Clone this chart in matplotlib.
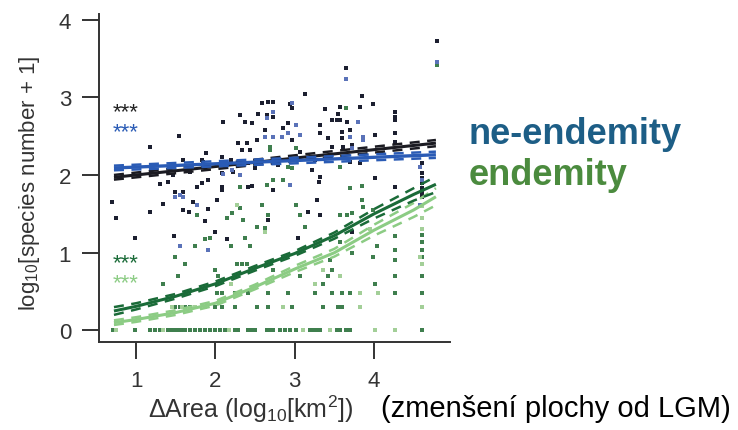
import matplotlib
matplotlib.use("Agg")
import matplotlib.pyplot as plt

plt.rcParams['font.family'] = ['Liberation Sans', 'DejaVu Sans']
plt.rcParams['mathtext.fontset'] = 'custom'
plt.rcParams['mathtext.rm'] = 'Liberation Sans'
plt.rcParams['mathtext.it'] = 'Liberation Sans:italic'

# all species (black points)
all_x = [1.54, 1.18, 1.59, 1.88, 1.83, 1.84, 1.68, 1.47, 1.30, 1.40, 1.90, 1.83, 1.77, 1.49, 1.59,
         3.13, 2.66, 2.73, 2.59, 2.94, 2.97, 3.38, 2.31, 2.54, 2.65, 2.10, 2.37, 2.46, 2.73, 2.92,
         3.32, 2.63, 2.85, 3.32, 3.42, 2.97, 2.53, 2.40, 2.29, 2.34, 2.44, 3.07, 3.47, 2.08, 2.19,
         2.41, 2.54, 2.72, 2.79, 3.26, 2.50, 3.22, 2.08, 2.22, 3.32, 2.08, 2.41, 2.46, 2.73, 3.30, 2.08,
         4.80, 3.64, 3.85, 3.99, 3.82, 3.57, 3.55, 3.53, 3.47, 3.57, 3.66, 4.27, 4.27, 4.27, 4.27, 4.27,
         3.70, 3.60, 3.60, 3.61, 3.72, 4.01, 3.47, 3.82, 3.70, 4.01, 4.27, 4.61, 4.61, 4.61, 4.61, 4.61,
         4.61, 4.61,
         0.70, 0.74, 1.18, 0.99, 1.34, 1.59, 1.67, 1.72, 1.91, 1.48, 1.87, 2.02,
         3.28, 3.32, 3.17, 2.15, 3.04, 2.66, 2.00, 3.72]
all_y = [2.50, 2.36, 2.19, 2.28, 2.19, 2.17, 2.04, 2.00, 1.88, 1.91, 1.94, 1.90, 1.85, 1.78, 1.78,
         3.04, 2.94, 2.94, 2.92, 2.91, 2.86, 2.85, 2.77, 2.79, 2.77, 2.68, 2.68, 2.67, 2.74, 2.67,
         2.64, 2.58, 2.60, 2.54, 2.47, 2.45, 2.45, 2.41, 2.41, 2.32, 2.32, 2.29, 2.36, 2.23, 2.19,
         2.15, 2.15, 2.15, 2.13, 2.19, 2.09, 2.06, 2.03, 2.04, 1.97, 1.85, 1.85, 1.86, 1.81, 1.91, 1.81,
         3.72, 3.37, 3.01, 2.91, 2.88, 2.87, 2.79, 2.71, 2.71, 2.71, 2.68, 2.81, 2.74, 2.71, 2.54, 2.42,
         2.58, 2.55, 2.47, 2.36, 2.38, 2.51, 2.36, 2.15, 2.17, 1.96, 1.85, 2.15, 2.03, 1.96, 1.90, 1.83,
         1.77, 1.72,
         1.65, 1.44, 1.53, 1.19, 1.63, 1.55, 1.53, 1.65, 1.56, 1.22, 1.41, 1.68,
         1.68, 1.49, 1.53, 1.18, 1.19, 1.42, 1.26, 1.26]

# non-endemic species (blue points)
ne_x = [1.55, 1.59, 2.65, 2.73, 2.97, 3.01, 2.92, 2.84, 2.63, 2.72, 3.07, 2.21, 2.31, 2.94, 2.10,
        3.64, 4.80, 3.80, 3.70, 3.86, 3.86, 3.72, 4.58, 1.55, 1.77, 1.91, 1.49, 4.58, 4.61]
ne_y = [1.74, 1.72, 2.73, 2.81, 2.92, 2.64, 2.54, 2.49, 2.49, 2.49, 2.51, 2.06, 2.00, 1.87, 2.01,
        3.23, 3.45, 2.68, 2.49, 2.49, 2.45, 2.35, 2.10, 1.08, 1.62, 1.04, 1.72, 1.62, 1.94]

# endemic species, all (dark green points)
end_x = [0.71, 0.99, 1.18, 1.24, 1.30, 1.40, 1.45, 1.49, 1.53, 1.58, 1.62, 1.68, 1.74, 1.81, 1.87,
         1.93, 2.00, 2.06, 2.12, 2.25, 2.29, 2.41, 2.46, 2.50, 2.65, 2.69, 2.73, 2.82, 2.88, 2.94,
         3.01, 3.19, 3.23, 3.28, 3.32, 3.53, 3.57, 3.64, 3.70, 4.61,
         1.49, 1.55, 1.62, 1.68, 2.00, 2.08, 2.25, 2.53, 2.66, 2.97, 3.35, 3.55, 3.60,
         3.47, 3.60, 3.70, 4.27, 4.61, 2.02, 2.08, 2.25, 2.41, 2.66, 2.92, 3.26, 1.34, 1.53,
         2.21, 2.31, 2.15, 2.53, 2.35, 2.59, 2.66, 2.63, 3.01, 3.07, 3.13, 2.44, 2.19, 2.37, 2.27,
         2.34, 2.40, 2.00, 2.03, 3.07, 3.42, 3.35, 2.73,
         1.49, 1.74, 1.87, 1.93, 1.77, 1.62, 1.34,
         2.69, 2.69, 3.01, 2.92, 2.97, 2.73, 2.85, 2.31, 2.65,
         3.64, 3.57, 3.70, 3.85, 4.80,
         3.57, 3.66, 3.72, 3.86, 3.85, 3.99, 3.57, 3.72, 3.45, 3.47, 4.27, 4.27, 4.27, 4.27, 4.04,
         3.99, 4.61, 4.61, 4.61, 4.61, 4.61, 4.01]
end_y = [0.00, 0.00, 0.00, 0.00, 0.00, 0.00, 0.00, 0.00, 0.00, 0.00, 0.00, 0.00, 0.00, 0.00, 0.00,
         0.00, 0.00, 0.00, 0.00, 0.00, 0.00, 0.00, 0.00, 0.00, 0.00, 0.00, 0.00, 0.00, 0.00, 0.00,
         0.00, 0.00, 0.00, 0.00, 0.00, 0.00, 0.00, 0.00, 0.00, 0.00,
         0.30, 0.30, 0.30, 0.30, 0.30, 0.30, 0.30, 0.30, 0.30, 0.30, 0.30, 0.30, 0.30,
         0.48, 0.48, 0.48, 0.48, 0.48, 0.48, 0.48, 0.48, 0.48, 0.48, 0.48, 0.48, 0.60, 0.70,
         1.51, 1.58, 1.45, 1.33, 1.42, 1.62, 1.49, 1.32, 1.62, 1.49, 1.33, 1.08, 1.08, 1.19, 0.85,
         0.85, 0.85, 0.78, 0.70, 0.70, 0.70, 0.60, 0.78,
         0.95, 1.08, 1.17, 1.19, 1.49, 0.85, 0.60,
         2.36, 2.32, 2.35, 2.10, 2.09, 1.94, 1.94, 1.85, 1.87,
         2.86, 2.10, 1.83, 1.86, 3.41,
         1.49, 1.49, 1.51, 1.59, 1.68, 1.55, 1.14, 1.00, 0.90, 0.78, 1.21, 1.04, 0.90, 0.70, 1.08,
         0.95, 1.23, 1.14, 1.04, 0.95, 0.70, 0.60]

# strict endemic species (light green points)
str_x = [4.01, 4.27, 0.74, 1.34, 2.17, 3.10, 3.45, 4.58, 4.61, 3.82, 3.82, 3.57, 2.63, 3.35,
         3.26, 2.27, 1.58, 1.45, 1.74, 1.87, 2.85, 3.95, 4.05, 4.61, 4.61, 4.61, 4.61, 1.62, 2.20]
str_y = [0.00, 0.00, 0.00, 0.00, 0.00, 0.00, 0.00, 0.95, 0.85, 0.30, 0.48, 0.70, 1.26, 0.78,
         0.60, 1.62, 0.30, 0.30, 0.30, 0.30, 0.30, 1.30, 0.48, 1.30, 1.45, 1.60, 0.30, 0.48, 0.60]

# fitted relationships and confidence half-widths
lin_x = [0.72, 4.78]
all_fit = [1.97, 2.41]
all_ci = [0.03, 0.04]
ne_fit = [2.09, 2.26]
ne_ci = [0.03, 0.04]

curve_x = [0.72, 1.0, 1.5, 2.0, 2.5, 3.0, 3.5, 4.0, 4.5, 4.78]
end_fit = [0.25, 0.31, 0.44, 0.60, 0.80, 0.99, 1.22, 1.50, 1.75, 1.88]
end_ci = [0.05, 0.04, 0.03, 0.03, 0.03, 0.03, 0.04, 0.06, 0.08, 0.10]
str_fit = [0.10, 0.14, 0.23, 0.35, 0.56, 0.79, 1.00, 1.29, 1.55, 1.72]
str_ci = [0.03, 0.03, 0.03, 0.03, 0.03, 0.04, 0.05, 0.07, 0.09, 0.11]

c_all, c_ne, c_end, c_str = '#1b1b22', '#2a5bb5', '#1a6b38', '#8ccc84'
p_all, p_ne, p_end, p_str = '#1c1f30', '#5a72b8', '#3f7f4e', '#a3cf98'

fig = plt.figure(figsize=(7.38, 4.31), dpi=100)
ax = fig.add_axes([0.134, 0.204, 0.476, 0.761])

ax.scatter(end_x, end_y, s=11, marker='s', color=p_end, linewidths=0, zorder=2)
ax.scatter(str_x, str_y, s=11, marker='s', color=p_str, linewidths=0, zorder=2)
ax.scatter(all_x, all_y, s=12, marker='s', color=p_all, linewidths=0, zorder=2)
ax.scatter(ne_x, ne_y, s=11, marker='s', color=p_ne, linewidths=0, zorder=2)


def fit_line(x, fit, ci, color, lw):
    ax.plot(x, fit, color=color, lw=lw, zorder=4, solid_capstyle='butt')
    up = [f + c for f, c in zip(fit, ci)]
    lo = [f - c for f, c in zip(fit, ci)]
    ax.plot(x, up, color=color, lw=1.8, ls=(0, (4, 3)), zorder=4)
    ax.plot(x, lo, color=color, lw=1.8, ls=(0, (4, 3)), zorder=4)


fit_line(curve_x, str_fit, str_ci, c_str, 2.2)
fit_line(curve_x, end_fit, end_ci, c_end, 2.2)
fit_line(lin_x, all_fit, all_ci, c_all, 2.2)
fit_line(lin_x, ne_fit, ne_ci, c_ne, 2.4)

# significance stars (small, stacked tightly as in the original)
ax.text(0.71, 2.81, '***', color='#222222', fontsize=16, va='center')
ax.text(0.71, 2.56, '***', color=c_ne, fontsize=16, va='center')
ax.text(0.71, 0.87, '***', color=c_end, fontsize=16, va='center')
ax.text(0.71, 0.62, '***', color=c_str, fontsize=16, va='center')

ax.set_xlim(0.53, 4.96)
ax.set_ylim(-0.15, 4.07)
ax.set_xticks([1, 2, 3, 4])
ax.set_yticks([0, 1, 2, 3, 4])
for s in ['top', 'right']:
    ax.spines[s].set_visible(False)
for s in ['left', 'bottom']:
    ax.spines[s].set_color('#333333')
    ax.spines[s].set_linewidth(1.4)
ax.tick_params(direction='out', length=12, width=1.4, color='#333333',
               labelcolor='#333333', labelsize=16, pad=8)

fig.text(30 / 738, 1 - 183 / 431, 'log$_{10}$[species number + 1]', rotation=90,
         ha='center', va='center', fontsize=16, color='#333333')
fig.text(148 / 738, 1 - 409 / 431, '$\\Delta$Area (log$_{10}$[km$^2$])',
         ha='left', va='center', fontsize=18, color='#333333')
fig.text(381 / 738, 1 - 409 / 431, '(zmenšení plochy od LGM)',
         ha='left', va='center', fontsize=21, color='black')

fig.text(469 / 738, 1 - 135 / 431, 'ne-endemity', ha='left', va='center',
         fontsize=26, fontweight='bold', color='#1d5e86')
fig.text(469 / 738, 1 - 176 / 431, 'endemity', ha='left', va='center',
         fontsize=26, fontweight='bold', color='#4b8b3e')

fig.savefig('out.png', dpi=100)
